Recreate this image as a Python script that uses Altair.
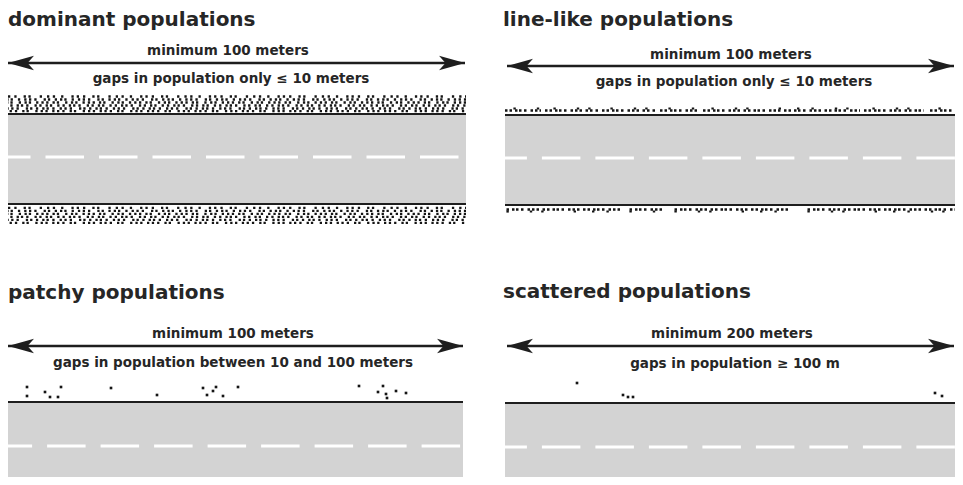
import altair as alt
import pandas as pd

# ---------------- panel texts ----------------
titles = ["dominant populations", "line-like populations", "patchy populations", "scattered populations"]
title_x = [8, 503, 8, 503]
title_y = [26, 26, 299, 298]

upper_labels = ["minimum 100 meters", "minimum 100 meters", "minimum 100 meters", "minimum 200 meters"]
upper_x = [228, 731, 233, 732]
upper_y = [55, 59, 338, 338]

lower_labels = ["gaps in population only \u2264 10 meters", "gaps in population only \u2264 10 meters",
                "gaps in population between 10 and 100 meters", "gaps in population \u2265 100 m"]
lower_x = [231, 734, 233, 735]
lower_y = [83, 86, 367, 368]

# ---------------- arrows ----------------
arrow_x0 = [8, 507, 8, 507]
arrow_x1 = [465, 954, 463, 954]
arrow_y = [63, 66, 346, 346]

# ---------------- roads ----------------
road_x0 = [8, 505, 8, 505]
road_x1 = [466, 955, 463, 955]
road_top = [114, 115, 402, 403]
road_bottom = [204, 205, 477, 477]
edge_y = [[114, 204], [115, 205], [402], [403]]
center_y = [157, 158, 446, 447]
center_offset = [16, 16.6, 14.4, 16.6]

# ---------------- dense (dominant) bands ----------------
dom_top_rows = [96.5, 99.5, 102.5, 105.5, 108.5, 111.2]
dom_bot_rows = [207.8, 210.8, 213.8, 216.8, 219.8, 222.8]
dom_patterns = [
    [2.3, 4, 2.3, 7, 2.3, 2.5, 2.3, 9, 2.3, 5, 2.3, 3.5, 2.3, 6, 2.3, 8, 2.3, 3],
    [2.3, 3, 2.3, 2, 2.3, 5, 2.3, 4, 2.3, 2.5, 2.3, 3, 2.3, 7, 2.3, 2, 2.3, 4.5],
    [2.3, 2.5, 2.3, 4, 2.3, 2, 2.3, 6, 2.3, 3.5, 2.3, 2, 2.3, 5, 2.3, 3],
    [2.3, 3, 2.3, 4, 2.3, 2, 2.3, 3, 2.3, 6, 2.3, 2.5, 2.3, 4, 2.3, 2, 2.3, 5],
    [2.3, 2, 2.3, 3.5, 2.3, 5, 2.3, 2.5, 2.3, 3, 2.3, 7, 2.3, 2, 2.3, 3.5, 2.3, 4],
    [2.3, 4.5, 2.3, 2.5, 2.3, 3, 2.3, 5, 2.3, 2, 2.3, 6.5, 2.3, 3, 2.3, 2.5],
]
dom_offsets = [0, 7, 13, 3, 19, 10]
dom_x0, dom_x1 = 8, 466

# ---------------- line-like rows (segments between gaps) ----------------
line_top_x0 = [505, 545, 602, 660, 703, 864, 930]
line_top_x1 = [541, 598, 655, 700, 860, 924, 955]
line_top_y = 110.5
line_bot_x0 = [505, 628, 673, 806]
line_bot_x1 = [622, 662, 790, 955]
line_bot_y = 209.5
line_pattern = [2.5, 2, 2.5, 3, 2.5, 1.5, 2.5, 2.5, 2.5, 4, 2.5, 2, 2.5, 2, 2.5, 3.5]
line_bump_pattern = [2.4, 12, 2.4, 21, 2.4, 9, 2.4, 30, 2.4, 16]

# ---------------- patchy & scattered individuals ----------------
patchy_x = [27, 27, 45, 50, 58, 61, 111, 157, 203, 207, 213, 216, 223, 238, 359, 378, 383, 386, 387, 396, 406]
patchy_y = [387, 396, 392, 397, 397, 387, 388, 395, 388, 395, 391, 387, 396, 387, 386, 392, 386, 394, 398, 391, 393]
scatter_x = [577, 623, 628, 633, 935, 942]
scatter_y = [383, 395, 397, 397, 393, 396]

# ---------------- styles ----------------
FONT = "DejaVu Sans"
TEXT_COL = "#262626"
INK = "#151515"
ROAD = "#d3d3d3"

xs = alt.Scale(domain=[8, 955], nice=False, zero=False)
ys = alt.Scale(domain=[8, 477], reverse=True, nice=False, zero=False)


def X(f="x"):
    return alt.X(f"{f}:Q", scale=xs, axis=None)


def Y(f="y"):
    return alt.Y(f"{f}:Q", scale=ys, axis=None)


layers = []

# road surfaces
roads = pd.DataFrame({"x": road_x0, "x2": road_x1, "y": road_top, "y2": road_bottom})
layers.append(alt.Chart(roads).mark_rect(color=ROAD).encode(
    x=X(), x2="x2:Q", y=Y(), y2="y2:Q"))

# road edge lines
edges = pd.DataFrame([{"x": road_x0[i], "x2": road_x1[i], "y": y}
                      for i in range(4) for y in edge_y[i]])
layers.append(alt.Chart(edges).mark_rule(color="#1e1e1e", strokeWidth=2.2).encode(
    x=X(), x2="x2:Q", y=Y()))

# centre dashes
for i in range(4):
    d = pd.DataFrame({"x": [road_x0[i]], "x2": [road_x1[i]], "y": [center_y[i]]})
    layers.append(alt.Chart(d).mark_rule(
        color="white", strokeWidth=3, strokeDash=[38.5, 15], strokeDashOffset=center_offset[i]
    ).encode(x=X(), x2="x2:Q", y=Y()))

# dominant population bands
for k in range(len(dom_top_rows)):
    d = pd.DataFrame({"x": [dom_x0, dom_x0], "x2": [dom_x1, dom_x1],
                      "y": [dom_top_rows[k], dom_bot_rows[k]]})
    layers.append(alt.Chart(d).mark_rule(
        color=INK, strokeWidth=2.3, strokeDash=dom_patterns[k], strokeDashOffset=dom_offsets[k]
    ).encode(x=X(), x2="x2:Q", y=Y()))

# line-like population rows
lt = pd.DataFrame({"x": line_top_x0, "x2": line_top_x1, "y": [line_top_y] * len(line_top_x0)})
lb = pd.DataFrame({"x": line_bot_x0, "x2": line_bot_x1, "y": [line_bot_y] * len(line_bot_x0)})
layers.append(alt.Chart(lt).mark_rule(color=INK, strokeWidth=2.6, strokeDash=line_pattern).encode(
    x=X(), x2="x2:Q", y=Y()))
layers.append(alt.Chart(lt).mark_rule(color=INK, strokeWidth=2.2, strokeDash=line_bump_pattern,
                                      strokeDashOffset=6).encode(
    x=X(), x2="x2:Q", y=alt.Y("yb:Q", scale=ys, axis=None)).transform_calculate(yb="datum.y - 2"))
layers.append(alt.Chart(lb).mark_rule(color=INK, strokeWidth=2.6, strokeDash=line_pattern,
                                      strokeDashOffset=3).encode(
    x=X(), x2="x2:Q", y=Y()))
layers.append(alt.Chart(lb).mark_rule(color=INK, strokeWidth=2.2, strokeDash=line_bump_pattern,
                                      strokeDashOffset=13).encode(
    x=X(), x2="x2:Q", y=alt.Y("yb:Q", scale=ys, axis=None)).transform_calculate(yb="datum.y + 2"))

# patchy + scattered individuals
dots = pd.DataFrame({"x": patchy_x + scatter_x, "y": patchy_y + scatter_y})
layers.append(alt.Chart(dots).mark_square(color=INK, size=7, opacity=1).encode(x=X(), y=Y()))

# arrows: shafts
arrows = pd.DataFrame({"x": arrow_x0, "x2": arrow_x1, "y": arrow_y})
layers.append(alt.Chart(arrows).mark_rule(color="#1e1e1e", strokeWidth=2.6).encode(
    x=X(), x2="x2:Q", y=Y()))

# arrows: heads (barbed)
HEAD_LEN = 26
RIGHT = "M1,0L-1,-0.56L-0.5,0L-1,0.56Z"
LEFT = "M-1,0L1,-0.56L0.5,0L1,0.56Z"
heads = pd.DataFrame({
    "x": [x + HEAD_LEN / 2 for x in arrow_x0] + [x - HEAD_LEN / 2 for x in arrow_x1],
    "y": arrow_y + arrow_y,
    "shape": [LEFT] * 4 + [RIGHT] * 4,
})
layers.append(alt.Chart(heads).mark_point(
    filled=True, color="#1e1e1e", opacity=1, size=HEAD_LEN ** 2, strokeWidth=0
).encode(x=X(), y=Y(), shape=alt.Shape("shape:N", scale=None)))

# texts
tdf = pd.DataFrame({"x": title_x, "y": title_y, "t": titles})
layers.append(alt.Chart(tdf).mark_text(
    font=FONT, fontWeight="bold", fontSize=20, align="left", baseline="alphabetic", color=TEXT_COL
).encode(x=X(), y=Y(), text="t:N"))

udf = pd.DataFrame({"x": upper_x, "y": upper_y, "t": upper_labels})
layers.append(alt.Chart(udf).mark_text(
    font=FONT, fontWeight="bold", fontSize=13.5, align="center", baseline="alphabetic", color=TEXT_COL
).encode(x=X(), y=Y(), text="t:N"))

ldf = pd.DataFrame({"x": lower_x, "y": lower_y, "t": lower_labels})
layers.append(alt.Chart(ldf).mark_text(
    font=FONT, fontWeight="bold", fontSize=13.5, align="center", baseline="alphabetic", color=TEXT_COL
).encode(x=X(), y=Y(), text="t:N"))

chart = alt.layer(*layers).properties(
    width=947, height=469, padding=0, autosize=alt.AutoSizeParams(type="none"),
    background="white"
).configure_view(strokeWidth=0)

chart.save("out.html", embed_options={"renderer": "svg", "actions": False})
